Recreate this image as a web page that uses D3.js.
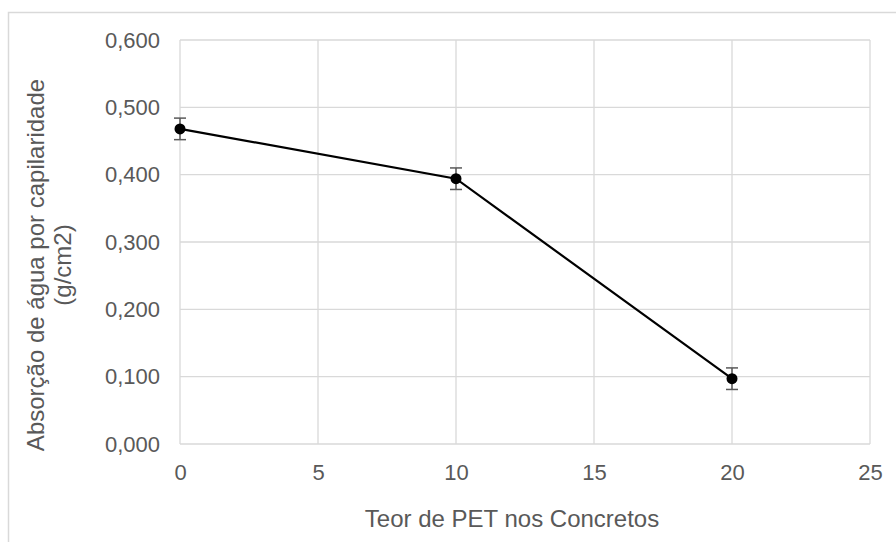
<!DOCTYPE html>
<html>
<head>
<meta charset="utf-8">
<script src="https://d3js.org/d3.v7.min.js"></script>
<style>
  body { margin: 0; background: #fff; }
  text { font-family: "Liberation Sans", Arial, sans-serif; fill: #595959; }
</style>
</head>
<body>
<svg width="896" height="542"></svg>
<script>
// dados
var teorPET = [0, 10, 20];
var absorcao = [0.468, 0.394, 0.097];
var erro = [0.016, 0.016, 0.016];
var xTicks = [0, 5, 10, 15, 20, 25];
var yTicks = [0, 0.1, 0.2, 0.3, 0.4, 0.5, 0.6];

var svg = d3.select("svg");

// borda externa do gráfico
svg.append("rect")
    .attr("x", 8.5).attr("y", 12.5)
    .attr("width", 900).attr("height", 540)
    .attr("fill", "none")
    .attr("stroke", "#d9d9d9")
    .attr("stroke-width", 1.5);

var x = d3.scaleLinear().domain([0, 25]).range([180, 870]);
var y = d3.scaleLinear().domain([0, 0.6]).range([444, 40]);

// grade vertical
svg.append("g")
    .selectAll("line")
    .data(xTicks)
    .enter()
    .append("line")
    .attr("x1", d => x(d)).attr("x2", d => x(d))
    .attr("y1", y(0)).attr("y2", y(0.6))
    .attr("stroke", "#d9d9d9").attr("stroke-width", 1.3);

// grade horizontal
svg.append("g")
    .selectAll("line")
    .data(yTicks)
    .enter()
    .append("line")
    .attr("x1", x(0)).attr("x2", x(25))
    .attr("y1", d => y(d)).attr("y2", d => y(d))
    .attr("stroke", "#d9d9d9").attr("stroke-width", 1.3);

var fmt = d => d3.format(".3f")(d).replace(".", ",");

// eixo y
var yAxis = svg.append("g")
    .attr("transform", "translate(" + x(0) + ",0)")
    .call(d3.axisLeft(y).tickValues(yTicks).tickFormat(fmt).tickSize(0).tickPadding(20));
yAxis.select(".domain").remove();
yAxis.selectAll("text").style("font-size", "22px").attr("fill", "#595959");

// eixo x
var xAxis = svg.append("g")
    .attr("transform", "translate(0," + y(0) + ")")
    .call(d3.axisBottom(x).tickValues(xTicks).tickSize(0).tickPadding(20));
xAxis.select(".domain").remove();
xAxis.selectAll("text").style("font-size", "22px").attr("fill", "#595959");

// títulos
svg.append("text")
    .attr("x", 512).attr("y", 527)
    .attr("text-anchor", "middle")
    .style("font-size", "24px")
    .text("Teor de PET nos Concretos");

var yt = svg.append("text")
    .attr("transform", "translate(44,265) rotate(-90)")
    .attr("text-anchor", "middle")
    .style("font-size", "24px");
yt.append("tspan").attr("x", 0).attr("dy", 0).text("Absorção de água por capilaridade");
yt.append("tspan").attr("x", 0).attr("dy", 27).text("(g/cm2)");

var pontos = teorPET.map((d, i) => ({ x: d, y: absorcao[i], e: erro[i] }));

// barras de erro
var eb = svg.append("g").attr("stroke", "#595959").attr("stroke-width", 1.5);
pontos.forEach(function (p) {
    eb.append("line")
        .attr("x1", x(p.x)).attr("x2", x(p.x))
        .attr("y1", y(p.y - p.e)).attr("y2", y(p.y + p.e));
    [p.y - p.e, p.y + p.e].forEach(function (v) {
        eb.append("line")
            .attr("x1", x(p.x) - 6).attr("x2", x(p.x) + 6)
            .attr("y1", y(v)).attr("y2", y(v));
    });
});

// linha
svg.append("path")
    .datum(pontos)
    .attr("fill", "none")
    .attr("stroke", "#000")
    .attr("stroke-width", 2.2)
    .attr("d", d3.line().x(d => x(d.x)).y(d => y(d.y)));

// marcadores
svg.append("g")
    .selectAll("circle")
    .data(pontos)
    .enter()
    .append("circle")
    .attr("cx", d => x(d.x))
    .attr("cy", d => y(d.y))
    .attr("r", 5.5)
    .attr("fill", "#000");
</script>
</body>
</html>
